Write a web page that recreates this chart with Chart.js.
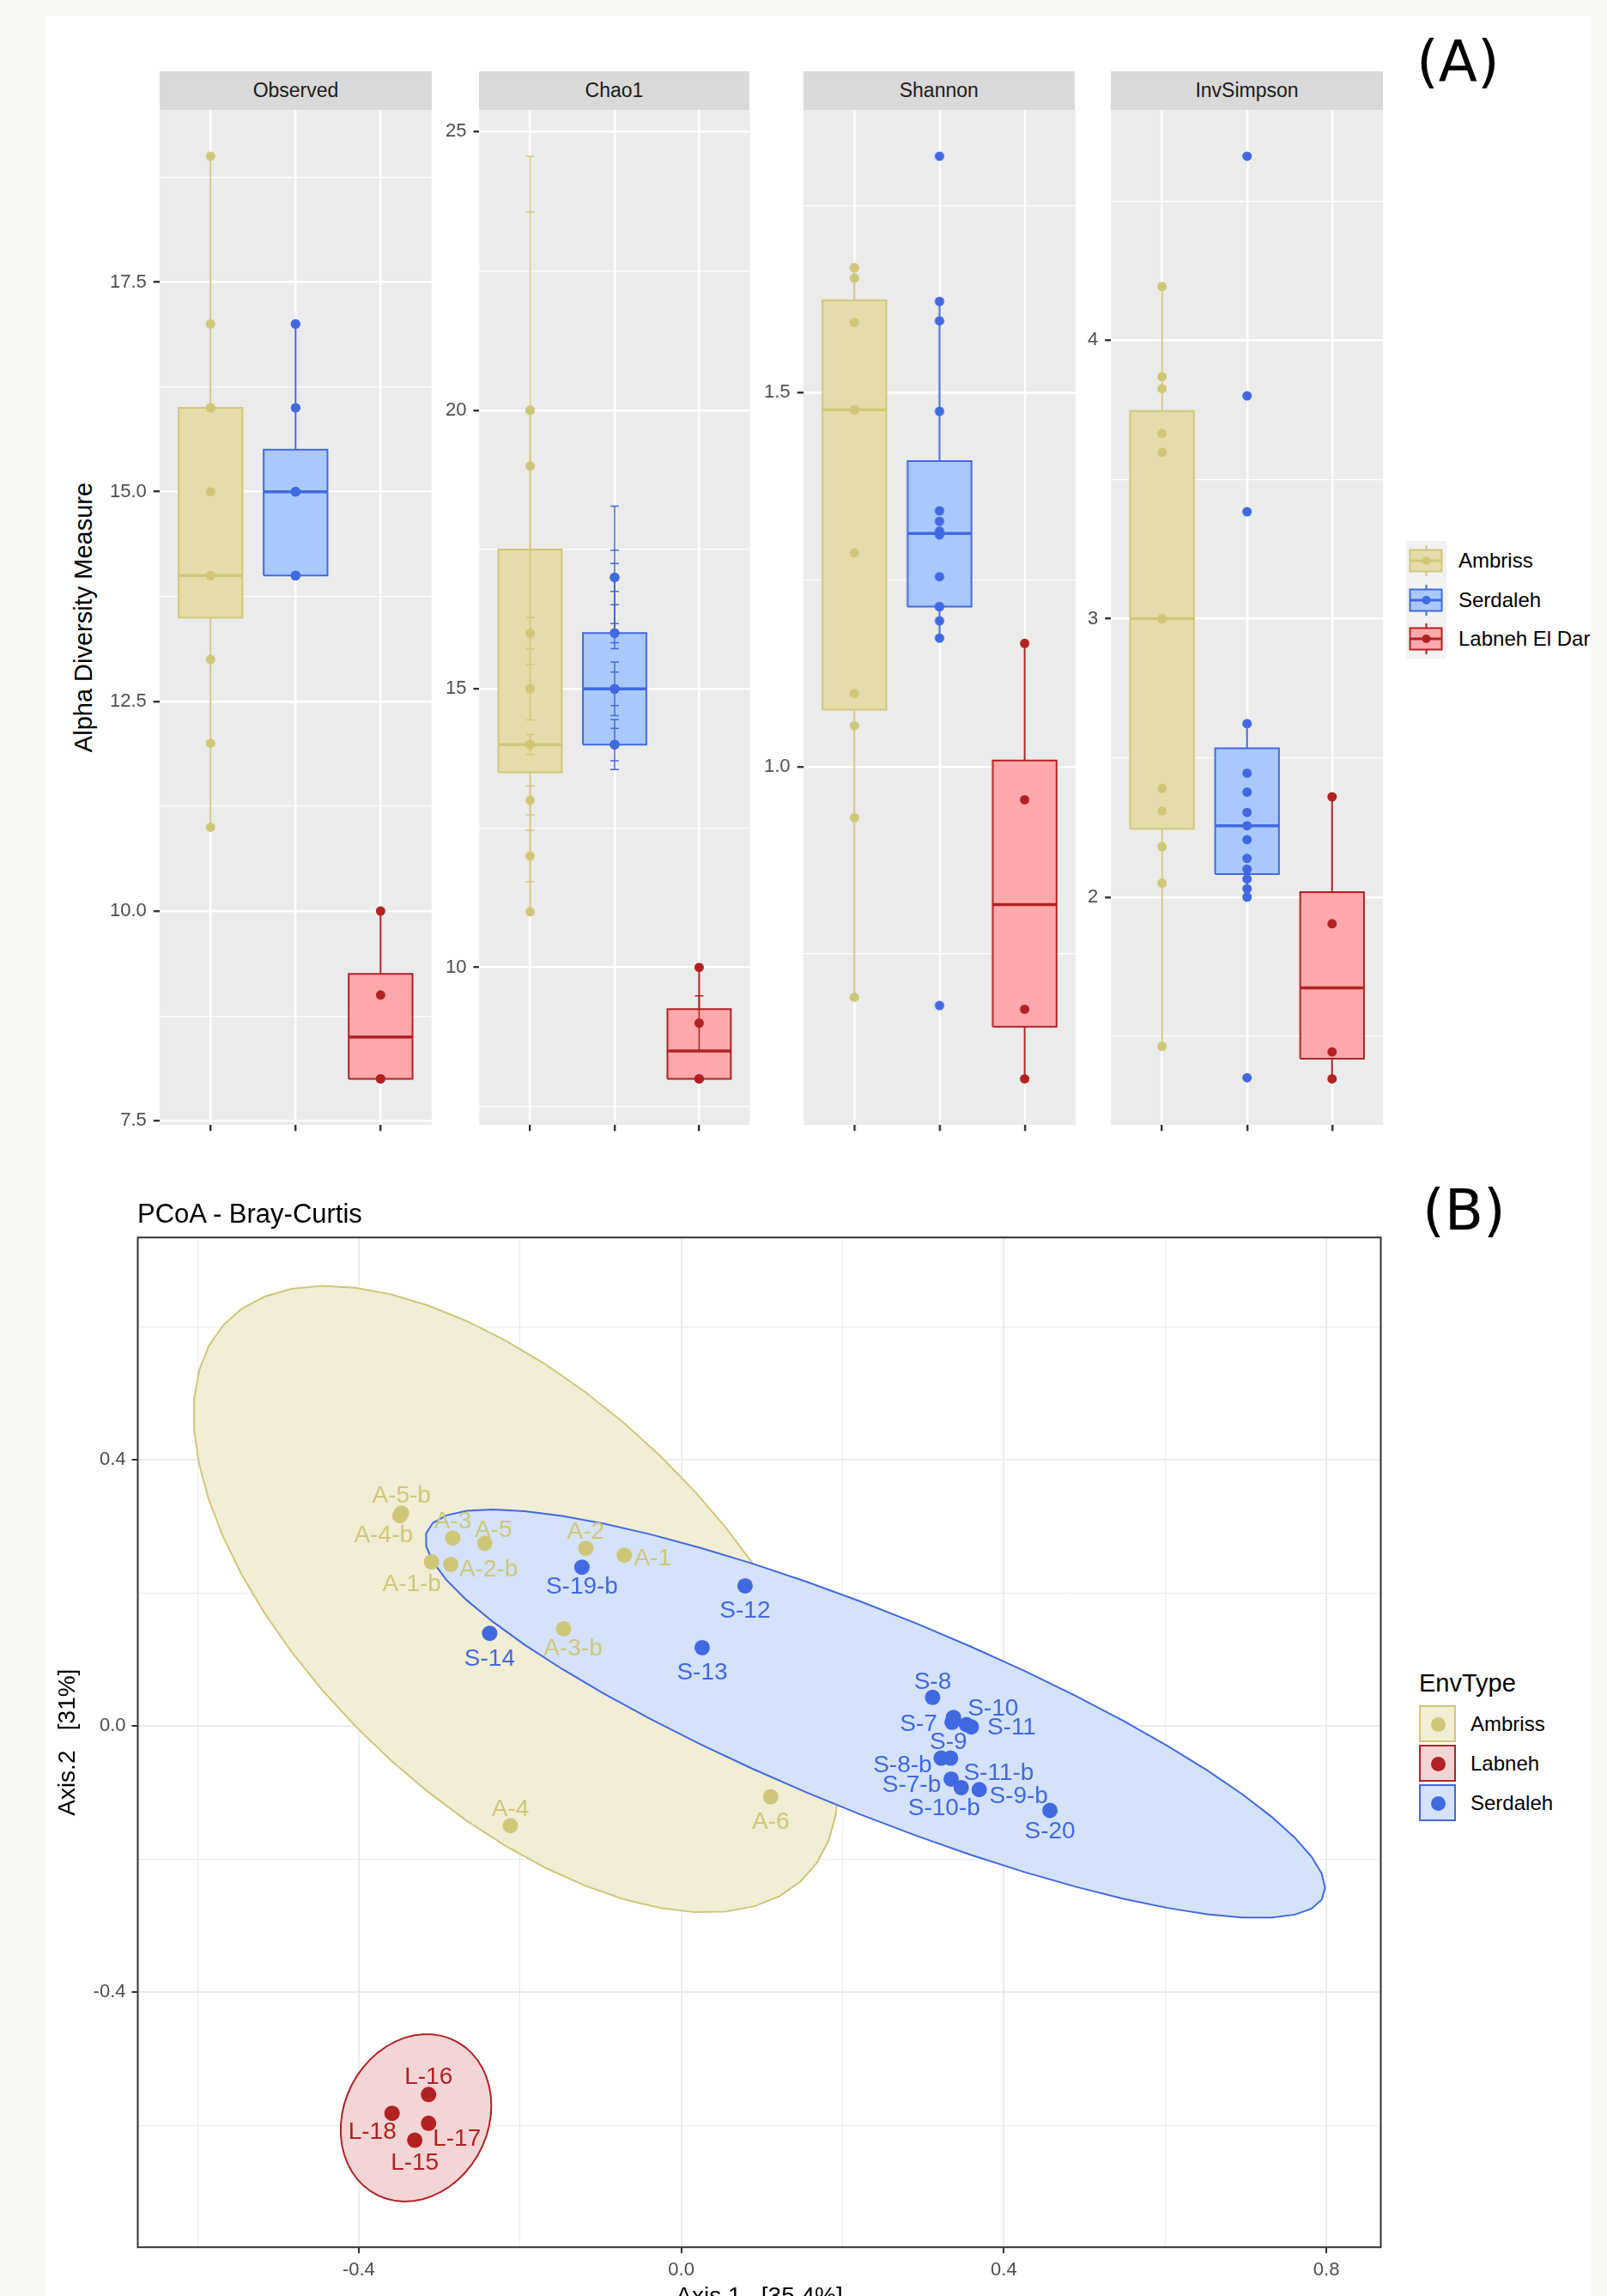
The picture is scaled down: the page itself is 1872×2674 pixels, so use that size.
<!DOCTYPE html>
<html>
<head>
<meta charset="utf-8">
<title>Alpha diversity and PCoA</title>
<script src="https://cdn.jsdelivr.net/npm/chart.js@4.4.1/dist/chart.umd.min.js"></script>
<style>
  html, body { margin: 0; padding: 0; }
  body { width: 1872px; height: 2674px; overflow: hidden; position: relative; background: #f7f9f4; font-family: "Liberation Sans", Arial, sans-serif; }
  #card { position: absolute; left: 53px; top: 18px; width: 1799px; height: 2656px; background: #fff; }
  .wrap { position: absolute; }
  .strip { position: absolute; top: 83px; height: 45px; line-height: 45px; background: #d9d9d9; color: #1a1a1a; font-size: 23px; text-align: center; }
  .tag { position: absolute; font-family: "DejaVu Sans", sans-serif; font-size: 66px; line-height: 66px; color: #000; }
  .txt { position: absolute; white-space: nowrap; color: #000; transform: translateY(-50%); line-height: 1; }
  .ytitle { position: absolute; white-space: nowrap; color: #000; font-size: 29px; line-height: 1; transform: translate(-50%, -50%) rotate(-90deg); }
  .key { position: absolute; box-sizing: border-box; border: 2px solid; }
  .dot { position: absolute; border-radius: 50%; }
</style>
</head>
<body>
<div id="card"></div>

<script>
// ---------- panel A: alpha diversity per sample ----------
const groupNames = ["Ambriss", "Serdaleh", "Labneh El Dar"];

const observedAmbriss = [19, 17, 16, 16, 15, 14, 14, 14, 13, 12, 11];
const observedSerdaleh = [17, 17, 16, 16, 15, 15, 15, 15, 15, 15, 14, 14, 14, 14, 14];
const observedLabneh = [10, 9, 8, 8];

const chao1Ambriss = [20, 20, 19, 16, 15, 14, 14, 14, 13, 12, 11];
const chao1Serdaleh = [17, 17, 17, 16, 16, 16, 15, 15, 15, 15, 14, 14, 14, 14, 14];
const chao1Labneh = [10, 9, 8, 8];
// chao1 +/- se.chao1, as [low, high]
const chao1SeAmbriss = [[15.44, 24.56], [14.44, 23.56], [15.72, 16.28], [13.82, 14.18], [12.74, 13.26], [11.54, 12.46]];
const chao1SeSerdaleh = [[15.72, 18.28], [16.51, 17.49], [16.75, 17.25], [15.83, 16.17], [14.52, 15.48], [14.7, 15.3], [13.71, 14.29], [13.55, 14.45]];
const chao1SeLabneh = [[8.51, 9.49]];

const shannonAmbriss = [1.667, 1.667, 1.653, 1.594, 1.477, 1.477, 1.286, 1.098, 1.055, 0.932, 0.692];
const shannonSerdaleh = [1.816, 1.622, 1.596, 1.475, 1.342, 1.328, 1.315, 1.312, 1.31, 1.254, 1.214, 1.214, 1.195, 1.172, 0.681];
const shannonLabneh = [1.165, 0.956, 0.676, 0.583];

const invSimpsonAmbriss = [4.193, 3.869, 3.826, 3.665, 3.597, 3.0, 2.39, 2.309, 2.181, 2.05, 1.464];
const invSimpsonSerdaleh = [4.661, 3.8, 3.384, 2.623, 2.445, 2.377, 2.304, 2.256, 2.206, 2.139, 2.1, 2.065, 2.03, 2.0, 1.351];
const invSimpsonLabneh = [2.36, 1.904, 1.444, 1.347];

const observedTicks = [7.5, 10, 12.5, 15, 17.5];
const chao1Ticks = [10, 15, 20, 25];
const shannonTicks = [1.0, 1.5];
const invSimpsonTicks = [2, 3, 4];

// ---------- panel B: PCoA (Bray-Curtis) sample coordinates ----------
const envTypes = ["Ambriss", "Labneh", "Serdaleh"];

const ambrissNames = ["A-1", "A-2", "A-3", "A-4", "A-5", "A-6", "A-1-b", "A-2-b", "A-3-b", "A-4-b", "A-5-b"];
const ambrissAxis1 = [-0.0707, -0.1184, -0.2834, -0.2119, -0.2437, 0.1109, -0.3097, -0.2858, -0.1459, -0.349, -0.347];
const ambrissAxis2 = [0.2568, 0.2671, 0.2826, -0.1497, 0.2746, -0.1063, 0.2465, 0.2428, 0.1461, 0.316, 0.320];

const labnehNames = ["L-15", "L-16", "L-17", "L-18"];
const labnehAxis1 = [-0.3305, -0.3134, -0.3134, -0.3587];
const labnehAxis2 = [-0.6223, -0.5535, -0.5968, -0.5818];

const serdalehNames = ["S-7", "S-8", "S-9", "S-10", "S-11", "S-12", "S-13", "S-14", "S-19-b", "S-20", "S-7-b", "S-8-b", "S-9-b", "S-10-b", "S-11-b"];
const serdalehAxis1 = [0.3358, 0.3117, 0.3536, 0.3376, 0.3596, 0.0791, 0.0259, -0.2376, -0.1232, 0.4572, 0.3347, 0.3223, 0.3695, 0.3472, 0.334];
const serdalehAxis2 = [0.0056, 0.043, 0.0022, 0.0129, -0.0013, 0.2106, 0.1178, 0.1394, 0.2387, -0.1268, -0.0796, -0.0482, -0.0955, -0.0925, -0.0482];

const pcoaXTicks = [-0.4, 0.0, 0.4, 0.8];
const pcoaYTicks = [-0.4, 0.0, 0.4];

// ---------- styling ----------
const FONT = '"Liberation Sans", Arial, sans-serif';
const colA = ["#cfc778", "#4169e1", "#b22222"];      // Ambriss, Serdaleh, Labneh El Dar
const boxFill = ["#e6dcab", "#a9c9fe", "#fda9ab"];
const colB = { Ambriss: "#cfc778", Labneh: "#b22222", Serdaleh: "#4169e1" };
const ellFill = { Ambriss: "#f2edd5", Labneh: "#f3d5d6", Serdaleh: "#d4e2fb" };
const BOX_HALF = 0.375, CAP = 0.05;

// label placement (px from the point), like ggrepel put them
const labelNudge = {
  "A-5-b": [0, -22], "A-4-b": [-19, 21], "A-3": [0, -21], "A-5": [10, -17], "A-2": [0, -21], "A-1": [33, 2],
  "A-1-b": [-23, 24], "A-2-b": [44, 4], "A-3-b": [11, 21], "A-4": [0, -21], "A-6": [0, 27],
  "S-19-b": [0, 21], "S-12": [0, 27], "S-14": [0, 28], "S-13": [0, 27],
  "S-8": [0, -20], "S-10": [46, -12], "S-7": [-39, 0], "S-11": [47, -1], "S-9": [-21, 18],
  "S-8-b": [-45, 6], "S-11-b": [56, 15], "S-7-b": [-46, 5], "S-10-b": [-20, 22], "S-9-b": [46, 6], "S-20": [0, 22],
  "L-16": [0, -22], "L-18": [-23, 20], "L-17": [33, 16], "L-15": [0, 24]
};

// ---------- helpers ----------
const sum = a => a.reduce((s, v) => s + v, 0);
const near = (a, b) => Math.abs(a - b) < 1e-9;

function boxStats(v) {
  const s = [...v].sort((a, b) => a - b);
  const q = p => {
    const h = (s.length - 1) * p, i = Math.floor(h);
    return i + 1 < s.length ? s[i] + (h - i) * (s[i + 1] - s[i]) : s[i];
  };
  const q1 = q(0.25), med = q(0.5), q3 = q(0.75), iqr = q3 - q1;
  const inside = s.filter(x => x >= q1 - 1.5 * iqr && x <= q3 + 1.5 * iqr);
  return { q1, med, q3, lo: inside[0], hi: inside[inside.length - 1] };
}

// stat_ellipse(type = "norm"): sample covariance, 95% F-based radius, 51 segments
function ellipsePoints(xs, ys) {
  const n = xs.length;
  const cx = sum(xs) / n, cy = sum(ys) / n;
  let s11 = 0, s12 = 0, s22 = 0;
  for (let i = 0; i < n; i++) {
    const dx = xs[i] - cx, dy = ys[i] - cy;
    s11 += dx * dx / (n - 1);
    s12 += dx * dy / (n - 1);
    s22 += dy * dy / (n - 1);
  }
  const d = n - 1, qf = d / 2 * (Math.pow(0.05, -2 / d) - 1), r = Math.sqrt(2 * qf);
  const r11 = Math.sqrt(s11), r12 = s12 / r11, r22 = Math.sqrt(s22 - r12 * r12);
  const pts = [];
  for (let k = 0; k <= 51; k++) {
    const t = k * 2 * Math.PI / 51;
    pts.push({ x: cx + r * r11 * Math.cos(t), y: cy + r * (r12 * Math.cos(t) + r22 * Math.sin(t)) });
  }
  return pts;
}

const panelBg = {
  id: 'panelBg',
  beforeDraw(chart, args, opts) {
    const { ctx, chartArea: a } = chart;
    ctx.save();
    ctx.fillStyle = opts.color || '#fff';
    ctx.fillRect(a.left, a.top, a.width, a.height);
    ctx.restore();
  }
};

const frame = {
  id: 'frame',
  afterDraw(chart) {
    const { ctx, chartArea: a } = chart;
    ctx.save();
    ctx.strokeStyle = '#333333';
    ctx.lineWidth = 2;
    ctx.strokeRect(a.left, a.top, a.width, a.height);
    ctx.restore();
  }
};

function makeWrap(id) {
  const d = document.createElement('div');
  d.className = 'wrap';
  d.style.left = '0px'; d.style.top = '0px';
  d.style.width = '400px'; d.style.height = '400px';
  const c = document.createElement('canvas');
  c.id = id;
  d.appendChild(c);
  document.body.appendChild(d);
  return d;
}

// move/resize the canvas so that its chart area lands on the target box
function place(chart, wrap, L, T, W, H) {
  for (let k = 0; k < 3; k++) {
    const a = chart.chartArea;
    const ml = a.left, mt = a.top, mr = chart.width - a.right, mb = chart.height - a.bottom;
    wrap.style.left = (L - ml) + 'px';
    wrap.style.top = (T - mt) + 'px';
    wrap.style.width = (W + ml + mr) + 'px';
    wrap.style.height = (H + mt + mb) + 'px';
    chart.resize();
  }
}

function addText(text, x, y, size, extra) {
  const d = document.createElement('div');
  d.className = 'txt';
  d.textContent = text;
  d.style.left = x + 'px';
  d.style.top = y + 'px';
  d.style.fontSize = size + 'px';
  if (extra) Object.assign(d.style, extra);
  document.body.appendChild(d);
  return d;
}

// ---------- panel A facets ----------
const PLOT_TOP = 128, PLOT_BOTTOM = 1310;
const facets = [
  { title: "Observed", left: 186, width: 317, series: [observedAmbriss, observedSerdaleh, observedLabneh], se: null, ticks: observedTicks, digits: 1 },
  { title: "Chao1", left: 558, width: 315, series: [chao1Ambriss, chao1Serdaleh, chao1Labneh], se: [chao1SeAmbriss, chao1SeSerdaleh, chao1SeLabneh], ticks: chao1Ticks, digits: 0 },
  { title: "Shannon", left: 935.5, width: 316.5, series: [shannonAmbriss, shannonSerdaleh, shannonLabneh], se: null, ticks: shannonTicks, digits: 1 },
  { title: "InvSimpson", left: 1294, width: 317, series: [invSimpsonAmbriss, invSimpsonSerdaleh, invSimpsonLabneh], se: null, ticks: invSimpsonTicks, digits: 0 }
];

function facetDatasets(series, se) {
  const sets = [];
  series.forEach((vals, g) => {
    const x = g + 1, b = boxStats(vals), h = BOX_HALF, col = colA[g];
    sets.push({
      data: [{ x: x - h, y: b.q1 }, { x: x + h, y: b.q1 }, { x: x + h, y: b.q3 }, { x: x - h, y: b.q3 }, { x: x - h, y: b.q1 }],
      fill: 'shape', backgroundColor: boxFill[g], borderColor: col, borderWidth: 2,
      borderJoinStyle: 'miter', pointRadius: 0, order: 5
    });
    sets.push({
      data: [{ x, y: b.lo }, { x, y: b.q1 }, { x, y: null }, { x, y: b.q3 }, { x, y: b.hi }],
      borderColor: col, borderWidth: 2, pointRadius: 0, order: 4
    });
    sets.push({
      data: [{ x: x - h, y: b.med }, { x: x + h, y: b.med }],
      borderColor: col, borderWidth: 3.5, pointRadius: 0, order: 3
    });
    if (se) {
      const d = [];
      se[g].forEach(([lo, hi]) => {
        d.push({ x, y: lo }, { x, y: hi }, { x, y: null },
               { x: x - CAP, y: lo }, { x: x + CAP, y: lo }, { x, y: null },
               { x: x - CAP, y: hi }, { x: x + CAP, y: hi }, { x, y: null });
      });
      sets.push({ data: d, borderColor: col, borderWidth: 1.5, pointRadius: 0, order: 2 });
    }
    sets.push({
      data: vals.map(v => ({ x, y: v })), showLine: false,
      pointRadius: 5.5, backgroundColor: col, pointBackgroundColor: col, pointBorderWidth: 0, order: 1
    });
  });
  return sets;
}

facets.forEach((f, i) => {
  // strip label
  const s = document.createElement('div');
  s.className = 'strip';
  s.style.left = f.left + 'px';
  s.style.width = f.width + 'px';
  s.textContent = f.title;
  document.body.appendChild(s);

  // y range: data range + 5%
  let all = f.series.flat();
  if (f.se) all = all.concat(f.se.flat(2));
  const lo = Math.min(...all), hi = Math.max(...all), pad = 0.05 * (hi - lo);
  const ymin = lo - pad, ymax = hi + pad;
  const step = f.ticks[1] - f.ticks[0];
  const minors = [];
  for (let v = f.ticks[0] - step / 2; v <= ymax; v += step) if (v >= ymin) minors.push(+v.toFixed(6));
  const allTicks = f.ticks.concat(minors).sort((a, b) => a - b);
  const isMajor = v => f.ticks.some(t => near(t, v));

  const wrap = makeWrap('facet' + i);
  const chart = new Chart(document.getElementById('facet' + i), {
    type: 'line',
    data: { datasets: facetDatasets(f.series, f.se) },
    plugins: [panelBg],
    options: {
      animation: false, responsive: true, maintainAspectRatio: false, devicePixelRatio: 1, events: [],
      layout: { padding: 0 },
      plugins: { legend: { display: false }, tooltip: { enabled: false }, panelBg: { color: '#ebebeb' } },
      scales: {
        x: {
          type: 'linear', min: 0.4, max: 3.6,
          afterBuildTicks: sc => { sc.ticks = [1, 2, 3].map(v => ({ value: v })); },
          ticks: { display: false },
          grid: { color: '#ffffff', lineWidth: 2.4, tickColor: '#333333', tickLength: 7, drawTicks: true },
          border: { display: false }
        },
        y: {
          type: 'linear', min: ymin, max: ymax,
          afterBuildTicks: sc => { sc.ticks = allTicks.map(v => ({ value: v })); },
          ticks: {
            autoSkip: false, padding: 8, color: '#4d4d4d', font: { family: FONT, size: 22 },
            callback: v => isMajor(v) ? v.toFixed(f.digits) : ''
          },
          grid: {
            color: '#ffffff',
            lineWidth: c => (c.tick && isMajor(c.tick.value)) ? 2.4 : 1.2,
            tickColor: c => (c.tick && isMajor(c.tick.value)) ? '#333333' : 'rgba(0,0,0,0)',
            tickLength: 7
          },
          border: { display: false }
        }
      }
    }
  });
  place(chart, wrap, f.left, PLOT_TOP, f.width, PLOT_BOTTOM - PLOT_TOP);
});

// y title of panel A
const yt = document.createElement('div');
yt.className = 'ytitle';
yt.textContent = 'Alpha Diversity Measure';
yt.style.left = '97px';
yt.style.top = '719px';
document.body.appendChild(yt);

// legend of panel A (boxplot keys)
(function () {
  const bg = document.createElement('div');
  bg.style.cssText = 'position:absolute;left:1638px;top:630px;width:47px;height:137px;background:#f2f2f2';
  document.body.appendChild(bg);
  groupNames.forEach((name, g) => {
    const top = 630 + g * 45.67;
    const svg = `<svg xmlns="http://www.w3.org/2000/svg" width="47" height="46" style="position:absolute;left:1638px;top:${top}px">
      <line x1="23.5" y1="5" x2="23.5" y2="41" stroke="${colA[g]}" stroke-width="2"/>
      <rect x="4.5" y="10.5" width="37" height="25" fill="${boxFill[g]}" stroke="${colA[g]}" stroke-width="2"/>
      <line x1="4.5" y1="23" x2="41.5" y2="23" stroke="${colA[g]}" stroke-width="3"/>
      <circle cx="23.5" cy="23" r="5" fill="${colA[g]}"/></svg>`;
    document.body.insertAdjacentHTML('beforeend', svg);
    addText(name, 1699, top + 23, 24);
  });
})();

// ---------- panel B: PCoA ----------
const pcoaGroups = [
  { env: "Ambriss", names: ambrissNames, a1: ambrissAxis1, a2: ambrissAxis2, order: 12 },
  { env: "Labneh", names: labnehNames, a1: labnehAxis1, a2: labnehAxis2, order: 11 },
  { env: "Serdaleh", names: serdalehNames, a1: serdalehAxis1, a2: serdalehAxis2, order: 10 }
];

const sampleLabels = {
  id: 'sampleLabels',
  afterDatasetsDraw(chart) {
    const { ctx, scales: { x, y } } = chart;
    ctx.save();
    ctx.font = '28px ' + FONT;
    ctx.textAlign = 'center';
    ctx.textBaseline = 'alphabetic';
    pcoaGroups.forEach(g => {
      ctx.fillStyle = colB[g.env];
      g.names.forEach((name, i) => {
        const off = labelNudge[name] || [0, 22];
        ctx.fillText(name, x.getPixelForValue(g.a1[i]) + off[0], y.getPixelForValue(g.a2[i]) + off[1] + 10);
      });
    });
    ctx.restore();
  }
};

const pcoaSets = [];
pcoaGroups.forEach(g => {
  pcoaSets.push({
    data: ellipsePoints(g.a1, g.a2), fill: 'shape',
    backgroundColor: ellFill[g.env], borderColor: colB[g.env], borderWidth: 2, pointRadius: 0, order: g.order
  });
});
pcoaGroups.forEach(g => {
  pcoaSets.push({
    data: g.a1.map((v, i) => ({ x: v, y: g.a2[i] })), showLine: false,
    pointRadius: 9, backgroundColor: colB[g.env], pointBackgroundColor: colB[g.env], pointBorderWidth: 0, order: 1
  });
});

const xAll = [-0.6, -0.4, -0.2, 0.0, 0.2, 0.4, 0.6, 0.8];
const yAll = [-0.6, -0.4, -0.2, 0.0, 0.2, 0.4, 0.6];
const xMajor = v => pcoaXTicks.some(t => near(t, v));
const yMajor = v => pcoaYTicks.some(t => near(t, v));

const wrapB = makeWrap('pcoa');
const chartB = new Chart(document.getElementById('pcoa'), {
  type: 'line',
  data: { datasets: pcoaSets },
  plugins: [panelBg, sampleLabels, frame],
  options: {
    animation: false, responsive: true, maintainAspectRatio: false, devicePixelRatio: 1, events: [],
    layout: { padding: 0 },
    plugins: { legend: { display: false }, tooltip: { enabled: false }, panelBg: { color: '#ffffff' } },
    scales: {
      x: {
        type: 'linear', min: -0.674, max: 0.8675,
        afterBuildTicks: sc => { sc.ticks = xAll.map(v => ({ value: v })); },
        ticks: { autoSkip: false, maxRotation: 0, padding: 7, color: '#4d4d4d', font: { family: FONT, size: 22 },
                 callback: v => xMajor(v) ? v.toFixed(1) : '' },
        grid: { color: '#ebebeb', lineWidth: c => (c.tick && xMajor(c.tick.value)) ? 2 : 1,
                tickColor: c => (c.tick && xMajor(c.tick.value)) ? '#333333' : 'rgba(0,0,0,0)', tickLength: 7 },
        border: { display: false },
        title: { display: true, text: 'Axis.1   [35.4%]', color: '#000', font: { family: FONT, size: 28 }, padding: { top: -6, bottom: 0 } }
      },
      y: {
        type: 'linear', min: -0.783, max: 0.734,
        afterBuildTicks: sc => { sc.ticks = yAll.map(v => ({ value: v })); },
        ticks: { autoSkip: false, padding: 7, color: '#4d4d4d', font: { family: FONT, size: 22 },
                 callback: v => yMajor(v) ? v.toFixed(1) : '' },
        grid: { color: '#ebebeb', lineWidth: c => (c.tick && yMajor(c.tick.value)) ? 2 : 1,
                tickColor: c => (c.tick && yMajor(c.tick.value)) ? '#333333' : 'rgba(0,0,0,0)', tickLength: 7 },
        border: { display: false },
        title: { display: true, text: 'Axis.2   [31%]', color: '#000', font: { family: FONT, size: 28 }, padding: { top: 0, bottom: 6 } }
      }
    }
  }
});
place(chartB, wrapB, 160.5, 1441, 1448, 1176);

addText('PCoA - Bray-Curtis', 160, 1413, 31);

// legend of panel B
addText('EnvType', 1653, 1960, 29);
envTypes.forEach((env, i) => {
  const top = 1986 + i * 46;
  const k = document.createElement('div');
  k.className = 'key';
  k.style.cssText += `left:1653px;top:${top}px;width:43px;height:43px;background:${ellFill[env]};border-color:${colB[env]}`;
  const d = document.createElement('div');
  d.className = 'dot';
  d.style.cssText += `left:11.5px;top:11.5px;width:17px;height:17px;background:${colB[env]}`;
  k.appendChild(d);
  document.body.appendChild(k);
  addText(env, 1713, top + 21.5, 24);
});

// panel tags
const tA = document.createElement('div');
tA.className = 'tag'; tA.textContent = '(A)';
tA.style.left = '1650px'; tA.style.top = '39px';
document.body.appendChild(tA);
const tB = document.createElement('div');
tB.className = 'tag'; tB.textContent = '(B)';
tB.style.left = '1657px'; tB.style.top = '1377px';
document.body.appendChild(tB);
</script>
</body>
</html>
